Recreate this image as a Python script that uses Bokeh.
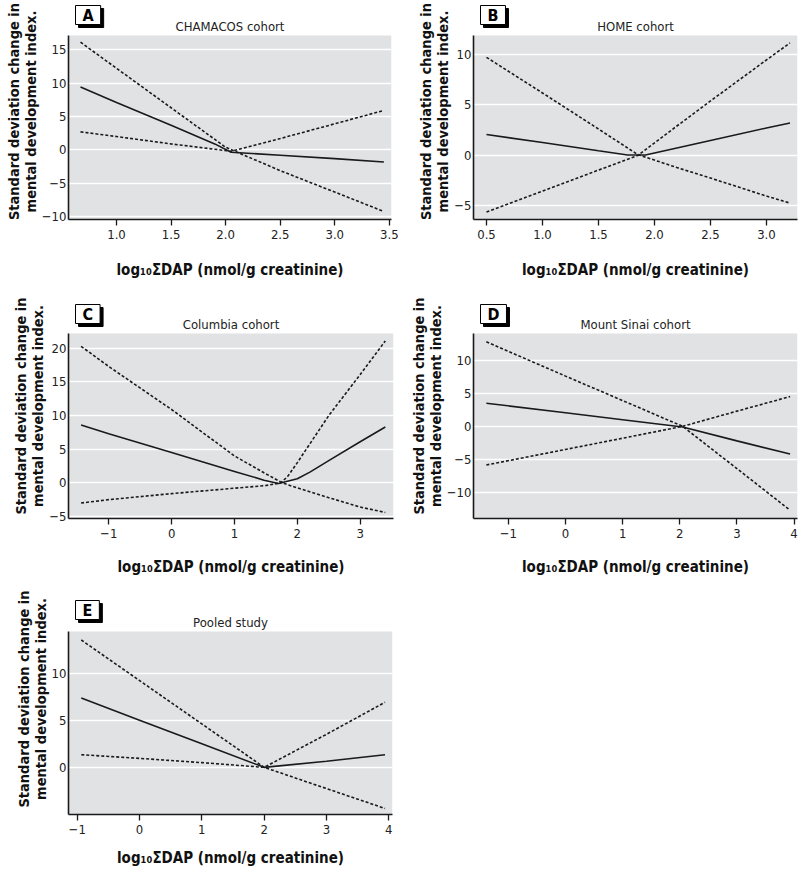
from bokeh.plotting import figure
from bokeh.models import Label, Range1d
from bokeh.layouts import column, row
from bokeh.embed import file_html
from bokeh.resources import INLINE

FONT = "DejaVu Sans Condensed, Liberation Sans, sans-serif"
BG = "#e1e2e4"
INK = "#1a1a1a"
Y_LABEL = "Standard deviation change in\nmental development index."
X_LABEL = "log\u2081\u2080\u03a3DAP (nmol/g creatinine)"

# ---------------- Panel A : CHAMACOS cohort ----------------
A_TITLE = "CHAMACOS cohort"
A_X_EST = [0.67, 1.0, 1.5, 1.9, 2.05, 2.5, 3.0, 3.45]
A_Y_EST = [9.4, 7.1, 3.7, 0.9, -0.35, -0.8, -1.3, -1.8]
A_X_CI1 = [0.67, 1.0, 1.5, 2.0, 2.5, 3.0, 3.45]
A_Y_CI1 = [16.1, 12.2, 6.3, 0.4, -3.1, -6.3, -9.2]
A_X_CI2 = [0.67, 1.0, 1.5, 2.05, 2.5, 3.0, 3.45]
A_Y_CI2 = [2.7, 2.0, 0.9, -0.2, 1.7, 3.9, 5.9]
A_XTICKS = [1.0, 1.5, 2.0, 2.5, 3.0, 3.5]
A_XLABELS = ["1.0", "1.5", "2.0", "2.5", "3.0", "3.5"]
A_YTICKS = [-10, -5, 0, 5, 10, 15]
A_XRANGE = (0.56, 3.52)
A_YRANGE = (-10.4, 17.1)

# ---------------- Panel B : HOME cohort ----------------
B_TITLE = "HOME cohort"
B_X_EST = [0.5, 1.0, 1.5, 1.76, 1.92, 2.2, 2.5, 3.0, 3.21]
B_Y_EST = [2.05, 1.25, 0.42, 0.0, 0.0, 0.7, 1.45, 2.7, 3.2]
B_X_CI1 = [0.5, 1.0, 1.5, 1.85, 2.2, 2.5, 3.0, 3.21]
B_Y_CI1 = [9.76, 6.2, 2.6, 0.05, -1.25, -2.3, -4.1, -4.8]
B_X_CI2 = [0.5, 1.0, 1.5, 1.85, 2.2, 2.5, 3.0, 3.21]
B_Y_CI2 = [-5.7, -3.6, -1.5, -0.05, 2.9, 5.4, 9.5, 11.2]
B_XTICKS = [0.5, 1.0, 1.5, 2.0, 2.5, 3.0]
B_XLABELS = ["0.5", "1.0", "1.5", "2.0", "2.5", "3.0"]
B_YTICKS = [-5, 0, 5, 10]
B_XRANGE = (0.384, 3.277)
B_YRANGE = (-6.44, 11.94)

# ---------------- Panel C : Columbia cohort ----------------
C_TITLE = "Columbia cohort"
C_X_EST = [-1.44, -1.0, 0.0, 1.0, 1.47, 1.7, 2.0, 2.2, 2.5, 3.0, 3.4]
C_Y_EST = [8.6, 7.3, 4.5, 1.7, 0.4, -0.1, 0.6, 1.6, 3.3, 6.1, 8.3]
C_X_CI1 = [-1.44, -1.0, 0.0, 1.0, 1.47, 1.76, 2.0, 2.5, 3.0, 3.4]
C_Y_CI1 = [20.3, 17.3, 10.9, 4.0, 1.5, 0.0, -0.75, -2.2, -3.6, -4.4]
C_X_CI2 = [-1.44, -1.0, 0.0, 1.0, 1.5, 1.74, 1.85, 2.0, 2.5, 3.0, 3.4]
C_Y_CI2 = [-3.0, -2.5, -1.6, -0.8, -0.4, 0.0, 1.0, 3.0, 10.0, 16.1, 21.1]
C_XTICKS = [-1, 0, 1, 2, 3]
C_XLABELS = ["\u22121", "0", "1", "2", "3"]
C_YTICKS = [-5, 0, 5, 10, 15, 20]
C_XRANGE = (-1.64, 3.53)
C_YRANGE = (-5.3, 22.2)

# ---------------- Panel D : Mount Sinai cohort ----------------
D_TITLE = "Mount Sinai cohort"
D_X_EST = [-1.385, 0.0, 1.0, 2.05, 3.0, 3.93]
D_Y_EST = [3.5, 2.05, 1.0, -0.1, -2.2, -4.2]
D_X_CI1 = [-1.385, 0.0, 1.0, 2.05, 3.0, 3.93]
D_Y_CI1 = [12.8, 7.6, 3.9, 0.0, -6.4, -12.7]
D_X_CI2 = [-1.385, 0.0, 1.0, 2.05, 3.0, 3.93]
D_Y_CI2 = [-5.85, -3.5, -1.8, 0.0, 2.3, 4.5]
D_XTICKS = [-1, 0, 1, 2, 3, 4]
D_XLABELS = ["\u22121", "0", "1", "2", "3", "4"]
D_YTICKS = [-10, -5, 0, 5, 10]
D_XRANGE = (-1.61, 4.06)
D_YRANGE = (-13.95, 14.05)

# ---------------- Panel E : Pooled study ----------------
E_TITLE = "Pooled study"
E_X_EST = [-0.935, 0.0, 1.0, 2.0, 3.0, 3.94]
E_Y_EST = [7.36, 5.0, 2.5, 0.0, 0.65, 1.34]
E_X_CI1 = [-0.935, 0.0, 1.0, 2.0, 3.0, 3.94]
E_Y_CI1 = [13.5, 9.2, 4.6, 0.0, -2.25, -4.36]
E_X_CI2 = [-0.935, 0.0, 1.0, 2.0, 3.0, 3.94]
E_Y_CI2 = [1.34, 0.95, 0.5, 0.0, 3.5, 6.9]
E_XTICKS = [-1, 0, 1, 2, 3, 4]
E_XLABELS = ["\u22121", "0", "1", "2", "3", "4"]
E_YTICKS = [0, 5, 10]
E_XRANGE = (-1.14, 4.06)
E_YRANGE = (-5.0, 14.4)


def ylab(v):
    return ("\u2212" + str(abs(v))) if v < 0 else str(v)


def panel(letter, title, xr, yr, xticks, xlabels, yticks, est, ci1, ci2,
          width, height, bl, br, bt, bb, head, box_gap, xstand):
    # frame covers the header strip (letter box + title) plus the grey plot area
    gh = height - head - bb              # height in px of the grey data area
    per_px = (yr[1] - yr[0]) / gh
    y_ext = yr[1] + (head - bt) * per_px
    p = figure(width=width, height=height, x_range=Range1d(*xr),
               y_range=Range1d(yr[0], y_ext),
               output_backend="svg", toolbar_location=None,
               min_border_left=bl, min_border_right=br,
               min_border_top=bt, min_border_bottom=bb)
    p.title.visible = False
    p.background_fill_color = "white"
    p.border_fill_color = "white"
    p.outline_line_color = None
    p.grid.visible = False

    p.quad(left=[xr[0]], right=[xr[1]], bottom=[yr[0]], top=[yr[1]],
           fill_color=BG, line_color=None)
    p.hspan(y=yticks, line_color="white", line_width=1.5)

    p.xaxis.ticker = xticks
    p.xaxis.major_label_overrides = {t: s for t, s in zip(xticks, xlabels)}
    p.yaxis.ticker = yticks
    p.yaxis.major_label_overrides = {t: ylab(t) for t in yticks}
    p.yaxis.bounds = (yr[0], yr[1])
    for ax in (p.xaxis[0], p.yaxis[0]):
        ax.axis_line_color = INK
        ax.axis_line_width = 1.6
        ax.minor_tick_line_color = None
        ax.major_label_text_font = FONT
        ax.major_label_text_font_size = "13px"
        ax.major_label_text_color = "#222222"
        ax.axis_label_text_font = FONT
        ax.axis_label_text_font_style = "bold"
        ax.axis_label_text_color = "#111111"
    p.xaxis.axis_label_text_font_size = "15px"
    p.yaxis.axis_label_text_font_size = "14.5px"
    p.xaxis.major_tick_line_color = INK
    p.xaxis.major_tick_line_width = 1.3
    p.xaxis.major_tick_out = 6
    p.xaxis.major_tick_in = 0
    p.xaxis.major_label_standoff = 4
    p.xaxis.axis_label = X_LABEL
    p.xaxis.axis_label_standoff = xstand
    p.yaxis.major_tick_line_color = None
    p.yaxis.major_tick_out = 0
    p.yaxis.major_tick_in = 0
    p.yaxis.major_label_standoff = 2
    p.yaxis.axis_label = Y_LABEL
    p.yaxis.axis_label_standoff = 0
    p.yaxis.axis_label_text_line_height = 1.05

    p.line(est[0], est[1], line_color=INK, line_width=1.6)
    p.line(ci1[0], ci1[1], line_color=INK, line_width=1.6, line_dash="3 2")
    p.line(ci2[0], ci2[1], line_color=INK, line_width=1.6, line_dash="3 2")

    fw = width - bl - br
    pad = dict(left=7, right=7, top=0, bottom=0)
    shadow = Label(x=7 + 3, y=gh + box_gap - 3, x_units="screen", y_units="screen",
                   text=letter, text_font=FONT, text_font_size="16px",
                   text_font_style="bold", text_color="black", text_baseline="bottom",
                   text_align="left", padding=pad, background_fill_color="black",
                   border_line_color="black")
    box = Label(x=7, y=gh + box_gap, x_units="screen", y_units="screen",
                text=letter, text_font=FONT, text_font_size="16px",
                text_font_style="bold", text_color="black", text_baseline="bottom",
                text_align="left", padding=pad, background_fill_color="white",
                border_line_color="black", border_line_width=1)
    ttl = Label(x=fw / 2, y=gh + 2, x_units="screen", y_units="screen", text=title,
                text_font=FONT, text_font_size="13px", text_color="#222222",
                text_baseline="bottom", text_align="center")
    p.add_layout(shadow)
    p.add_layout(box)
    p.add_layout(ttl)
    return p


pA = panel("A", A_TITLE, A_XRANGE, A_YRANGE, A_XTICKS, A_XLABELS, A_YTICKS,
           (A_X_EST, A_Y_EST), (A_X_CI1, A_Y_CI1), (A_X_CI2, A_Y_CI2),
           400, 290, 68, 9, 3, 71, 35, 11, 19)
pB = panel("B", B_TITLE, B_XRANGE, B_YRANGE, B_XTICKS, B_XLABELS, B_YTICKS,
           (B_X_EST, B_Y_EST), (B_X_CI1, B_Y_CI1), (B_X_CI2, B_Y_CI2),
           400, 290, 73, 3, 3, 71, 35, 11, 19)
pC = panel("C", C_TITLE, C_XRANGE, C_YRANGE, C_XTICKS, C_XLABELS, C_YTICKS,
           (C_X_EST, C_Y_EST), (C_X_CI1, C_Y_CI1), (C_X_CI2, C_Y_CI2),
           400, 290, 68, 7, 3, 62, 43, 10, 17)
pD = panel("D", D_TITLE, D_XRANGE, D_YRANGE, D_XTICKS, D_XLABELS, D_YTICKS,
           (D_X_EST, D_Y_EST), (D_X_CI1, D_Y_CI1), (D_X_CI2, D_Y_CI2),
           400, 290, 73, 3, 3, 62, 43, 10, 17)
pE = panel("E", E_TITLE, E_XRANGE, E_YRANGE, E_XTICKS, E_XLABELS, E_YTICKS,
           (E_X_EST, E_Y_EST), (E_X_CI1, E_Y_CI1), (E_X_CI2, E_Y_CI2),
           400, 296, 68, 8, 3, 62, 51, 12, 12)

layout = column(row(pA, pB), row(pC, pD), row(pE))
open("out.html", "w").write(file_html(layout, INLINE))
